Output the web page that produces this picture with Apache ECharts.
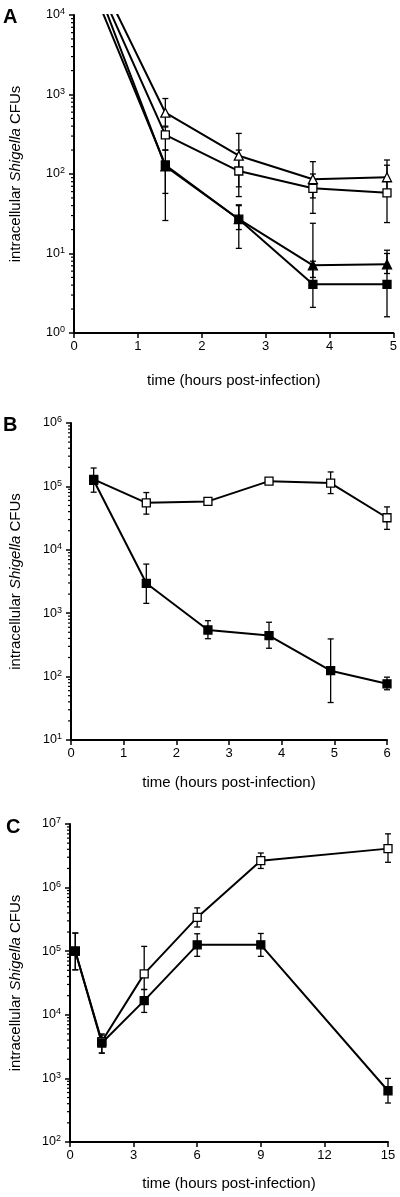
<!DOCTYPE html>
<html><head><meta charset="utf-8">
<script src="https://cdn.jsdelivr.net/npm/echarts@6/dist/echarts.min.js"></script>
<style>html,body{margin:0;padding:0;background:#fff}#c{width:400px;height:1197px}</style>
</head><body><div id="c"></div>
<script>
// ---------- Panel A ----------
const tA = [0.43, 1.43, 2.58, 3.74, 4.9];
const aOpenTri = [26000, 590, 170, 86, 91];
const aOpenSq = [19400, 310, 109, 66, 58];
const aFilledTri = [16000, 125, 27, 7.1, 7.3];
const aFilledSq = [11700, 130, 27, 4.1, 4.1];
const aOpenTriErr = [null, [400, 890], [69, 324], [50, 143], [60, 150]];
const aOpenSqErr = [null, [200, 390], [52, 200], [32, 100], [24.5, 129]];
const aFilledTriErr = [null, [26, 200], [20, 40], [5, 24], [5.6, 11]];
const aFilledSqErr = [null, [57, 112], [11.6, 41], [2.1, 8], [1.6, 10]];
// ---------- Panel B ----------
const tB = [0.43, 1.43, 2.6, 3.76, 4.93, 6];
const bOpenSq = [129000, 55000, 58000, 121000, 113000, 32000];
const bFilledSq = [125000, 2960, 543, 443, 124, 77];
const bOpenSqErr = [[81000, 195000], [36500, 80000], null, null, [77000, 169000], [21000, 47500]];
const bFilledSqErr = [null, [1430, 5950], [396, 762], [280, 720], [39, 393], [62, 98]];
// ---------- Panel C ----------
const tC = [0.25, 1.5, 3.5, 6, 9, 15];
const cOpenSq = [100000, 3800, 44000, 340000, 2650000, 4100000];
const cFilledSq = [100000, 3600, 16700, 126000, 126000, 640];
const cOpenSqErr = [[51000, 193000], [2500, 5000], [25000, 119000], [240000, 480000], [2000000, 3500000], [2500000, 7000000]];
const cFilledSqErr = [[51000, 193000], [2500, 4800], [10900, 25000], [83000, 188000], [83000, 190000], [410, 1000]];
// ---------- Axes ----------
const xRanges = [[0, 5, 1], [0, 6, 1], [0, 15, 3]];
const yRanges = [[1, 1e4], [10, 1e6], [100, 1e7]];
const yTitle = 'intracellular {i|Shigella} CFUs';
const xTitle = 'time (hours post-infection)';

const FONT = '"Liberation Sans", Arial, sans-serif';
const grids = [
  {left: 73, top: 15, width: 322, height: 318},
  {left: 67, top: 423, width: 320, height: 317},
  {left: 68, top: 824, width: 320, height: 318}
];
const xGaps = [40, 35, 34];
const yGaps = [51, 48, 47];

function pts(t, v) { return t.map((x, i) => [x, v[i]]); }
function errs(t, e) { const out = []; t.forEach((x, i) => { if (e[i]) out.push([x, e[i][0], e[i][1]]); }); return out; }
function minorVals(lo, hi) {
  const out = [];
  for (let k = Math.round(Math.log10(lo)); k < Math.round(Math.log10(hi)); k++)
    for (let m = 2; m <= 9; m++) out.push([0, m * Math.pow(10, k)]);
  return out;
}

function renderErr(params, api) {
  const x = api.value(0), lo = api.value(1), hi = api.value(2);
  const p1 = api.coord([x, hi]), p2 = api.coord([x, lo]);
  const w = 3;
  const st = {stroke: '#000', lineWidth: 1.3};
  return {type: 'group', children: [
    {type: 'line', shape: {x1: p1[0], y1: p1[1], x2: p2[0], y2: p2[1]}, style: st},
    {type: 'line', shape: {x1: p1[0] - w, y1: p1[1], x2: p1[0] + w, y2: p1[1]}, style: st},
    {type: 'line', shape: {x1: p2[0] - w, y1: p2[1], x2: p2[0] + w, y2: p2[1]}, style: st}
  ]};
}
function renderMinor(params, api) {
  const p = api.coord([api.value(0), api.value(1)]);
  return {type: 'line', shape: {x1: p[0] - 3, y1: p[1], x2: p[0], y2: p[1]}, style: {stroke: '#000', lineWidth: 1.2}};
}

const series = [];
function addLine(idx, t, v, e, sym, filled) {
  series.push({type: 'custom', xAxisIndex: idx, yAxisIndex: idx, renderItem: renderErr,
    encode: {x: 0, y: [1, 2]}, data: errs(t, e), z: 1, silent: true});
  series.push({type: 'line', xAxisIndex: idx, yAxisIndex: idx, data: pts(t, v), clip: true,
    symbol: sym, symbolSize: sym === 'triangle' ? 9 : 8, showSymbol: true,
    lineStyle: {color: '#000', width: 2},
    itemStyle: {color: filled ? '#000' : '#fff', borderColor: '#000', borderWidth: 1.3},
    z: 3, animation: false});
}
for (let i = 0; i < 3; i++) {
  series.push({type: 'custom', xAxisIndex: i, yAxisIndex: i, renderItem: renderMinor,
    encode: {x: 0, y: 1}, data: minorVals(yRanges[i][0], yRanges[i][1]), z: 5, silent: true, clip: false});
}
addLine(0, tA, aOpenTri, aOpenTriErr, 'triangle', false);
addLine(0, tA, aOpenSq, aOpenSqErr, 'rect', false);
addLine(0, tA, aFilledTri, aFilledTriErr, 'triangle', true);
addLine(0, tA, aFilledSq, aFilledSqErr, 'rect', true);
addLine(1, tB, bOpenSq, bOpenSqErr, 'rect', false);
addLine(1, tB, bFilledSq, bFilledSqErr, 'rect', true);
addLine(2, tC, cOpenSq, cOpenSqErr, 'rect', false);
addLine(2, tC, cFilledSq, cFilledSqErr, 'rect', true);

const xAxis = xRanges.map((r, i) => ({
  type: 'value', gridIndex: i, min: r[0], max: r[1], interval: r[2],
  name: xTitle, nameLocation: 'middle', nameGap: xGaps[i],
  nameTextStyle: {fontFamily: FONT, fontSize: 15, color: '#000'},
  axisLine: {lineStyle: {color: '#000', width: 2}},
  axisTick: {show: true, length: 5, lineStyle: {color: '#000', width: 1.5}},
  axisLabel: {fontFamily: FONT, fontSize: 13, color: '#000', margin: 7},
  splitLine: {show: false}
}));
const yAxis = yRanges.map((r, i) => ({
  type: 'log', logBase: 10, gridIndex: i, min: r[0], max: r[1],
  name: yTitle, nameLocation: 'middle', nameGap: yGaps[i], nameRotate: 90,
  nameTextStyle: {fontFamily: FONT, fontSize: 15, color: '#000',
    rich: {i: {fontFamily: FONT, fontSize: 15, fontStyle: 'italic', color: '#000'}}},
  axisLine: {show: true, lineStyle: {color: '#000', width: 2}},
  axisTick: {show: true, length: 5, lineStyle: {color: '#000', width: 1.5}},
  axisLabel: {fontFamily: FONT, color: '#000', margin: 9,
    formatter: v => '{b|10}{e|' + Math.round(Math.log10(v)) + '}',
    rich: {b: {fontFamily: FONT, fontSize: 12.5, color: '#000'},
           e: {fontFamily: FONT, fontSize: 9, color: '#000', padding: [0, 0, 6, 0]}}},
  splitLine: {show: false}
}));

const graphic = [
  {type: 'text', left: 3, top: 7, style: {text: 'A', font: 'bold 20px ' + FONT, fill: '#000'}},
  {type: 'text', left: 3, top: 415, style: {text: 'B', font: 'bold 20px ' + FONT, fill: '#000'}},
  {type: 'text', left: 6, top: 817, style: {text: 'C', font: 'bold 20px ' + FONT, fill: '#000'}}
];

const chart = echarts.init(document.getElementById('c'), null, {renderer: 'canvas'});
chart.setOption({animation: false, backgroundColor: '#fff', grid: grids, xAxis, yAxis, series, graphic});
</script></body></html>
